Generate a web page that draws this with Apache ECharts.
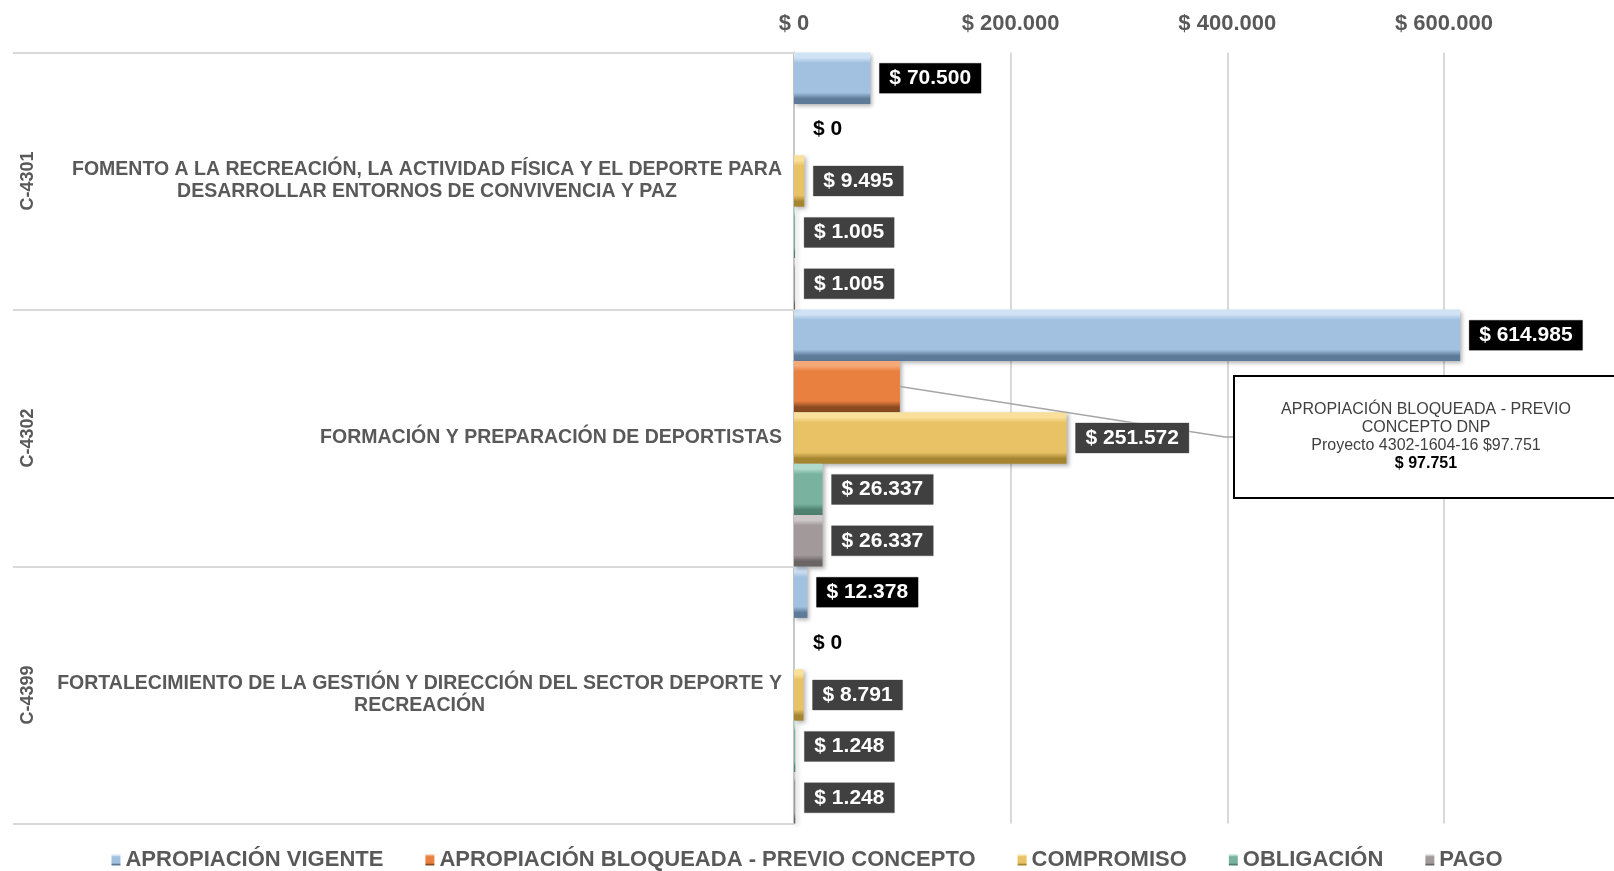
<!DOCTYPE html>
<html>
<head>
<meta charset="utf-8">
<script src="https://cdn.jsdelivr.net/npm/echarts@6/dist/echarts.min.js"></script>
<style>
  html, body { margin: 0; padding: 0; background: #fff; }
  #container { width: 1614px; height: 871px; }
</style>
</head>
<body>
<div id="container"></div>
<script>
var categories = [
  'FOMENTO A LA RECREACIÓN, LA ACTIVIDAD FÍSICA Y EL DEPORTE PARA\nDESARROLLAR ENTORNOS DE CONVIVENCIA Y PAZ',
  'FORMACIÓN Y PREPARACIÓN DE DEPORTISTAS',
  'FORTALECIMIENTO DE LA GESTIÓN Y DIRECCIÓN DEL SECTOR DEPORTE Y\nRECREACIÓN'
];
var codes = ['C-4301', 'C-4302', 'C-4399'];
var seriesNames = ['APROPIACIÓN VIGENTE', 'APROPIACIÓN BLOQUEADA - PREVIO CONCEPTO', 'COMPROMISO', 'OBLIGACIÓN', 'PAGO'];
var vigente = [70500, 614985, 12378];
var bloqueada = [0, 97751, 0];
var compromiso = [9495, 251572, 8791];
var obligacion = [1005, 26337, 1248];
var pago = [1005, 26337, 1248];
var calloutText = 'APROPIACIÓN BLOQUEADA - PREVIO\nCONCEPTO DNP\nProyecto 4302-1604-16 $97.751';

var FONT = "'Liberation Sans', Arial, sans-serif";

function fmt(v) {
  return '$ ' + String(v).replace(/\B(?=(\d{3})+(?!\d))/g, '.');
}

function bevel(light, main, dark) {
  return new echarts.graphic.LinearGradient(0, 0, 0, 1, [
    {offset: 0, color: light},
    {offset: 0.1, color: light},
    {offset: 0.2, color: main},
    {offset: 0.78, color: main},
    {offset: 0.9, color: dark},
    {offset: 1, color: dark}
  ]);
}

var dom = document.getElementById('container');
var myChart = echarts.init(dom);

function valLabel(bg, color) {
  return {
    show: true,
    position: 'right',
    distance: 9,
    formatter: function (p) { return fmt(p.value); },
    fontFamily: FONT,
    fontWeight: 'bold',
    fontSize: 21,
    color: color || '#fff',
    backgroundColor: bg,
    borderColor: bg === 'transparent' ? 'transparent' : '#bfbfbf',
    borderWidth: 0.5,
    padding: [5, 10, 4, 10]
  };
}

function barSeries(name, data, colors, label) {
  return {
    name: name,
    type: 'bar',
    yAxisIndex: 0,
    barGap: '0%',
    barCategoryGap: '0%',
    itemStyle: {
      color: bevel(colors[0], colors[1], colors[2]),
      shadowColor: 'rgba(0,0,0,0.3)',
      shadowBlur: 4,
      shadowOffsetX: 2,
      shadowOffsetY: 2
    },
    label: label,
    data: data
  };
}

// bloqueada: item 1 gets the callout box
var bloqData = bloqueada.map(function (v, i) {
  if (i !== 1) return v;
  return {
    value: v,
    label: {
      formatter: calloutText + '\n{b|' + fmt(v) + '}',
      color: '#404040',
      fontWeight: 'normal',
      fontSize: 16,
      lineHeight: 18,
      backgroundColor: '#fff',
      borderColor: '#000',
      borderWidth: 2,
      width: 366,
      align: 'center',
      padding: [24, 8, 24, 8],
      rich: {
        b: {fontFamily: FONT, fontWeight: 'bold', fontSize: 16, lineHeight: 18, color: '#000'}
      }
    }
  };
});

var bloqSeries = barSeries(seriesNames[1], bloqData, ['#f5a878', '#e9803f', '#8a4a20'], valLabel('transparent', '#000'));
bloqSeries.labelLayout = function (p) {
  if (p.dataIndex !== 1) return {};
  return {x: 1426, y: 437, align: 'center', verticalAlign: 'middle'};
};

var option = {
  animation: false,
  textStyle: {fontFamily: FONT},
  grid: {left: 794, top: 52.5, height: 771, right: 0, containLabel: false},
  xAxis: {
    type: 'value',
    position: 'top',
    min: 0,
    max: 757000,
    interval: 200000,
    axisLine: {show: false},
    axisTick: {show: false},
    axisLabel: {
      showMaxLabel: false,
      margin: 18,
      formatter: function (v) { return fmt(v); },
      fontFamily: FONT,
      fontWeight: 'bold',
      fontSize: 22,
      color: '#595959'
    },
    splitLine: {showMaxLine: false, lineStyle: {color: '#d9d9d9', width: 2}}
  },
  yAxis: [{
    type: 'category',
    inverse: true,
    data: categories,
    axisLine: {show: true, lineStyle: {color: '#c8c8c8', width: 2}},
    axisTick: {show: true, length: 781, lineStyle: {color: '#d9d9d9', width: 2}},
    axisLabel: {
      margin: 12,
      formatter: function (v) { return '{c|' + v + '}'; },
      rich: {
        c: {align: 'center', fontFamily: FONT, fontWeight: 'bold', fontSize: 19.5, lineHeight: 22, color: '#595959'}
      }
    }
  }, {
    type: 'category',
    inverse: true,
    position: 'left',
    data: codes,
    axisLine: {show: false},
    axisTick: {show: false},
    axisLabel: {
      rotate: 90,
      margin: 757,
      fontFamily: FONT,
      fontWeight: 'bold',
      fontSize: 18,
      color: '#595959'
    }
  }],
  legend: {
    data: seriesNames,
    top: 849,
    left: 'center',
    padding: 0,
    icon: 'rect',
    itemWidth: 9,
    itemHeight: 11,
    itemGap: 42,
    textStyle: {fontFamily: FONT, fontWeight: 'bold', fontSize: 22, color: '#595959'}
  },
  series: [
    barSeries(seriesNames[0], vigente, ['#cfe3f5', '#a2c1e1', '#5d7a98'], valLabel('#000')),
    bloqSeries,
    barSeries(seriesNames[2], compromiso, ['#f9e09a', '#e9c266', '#a68530'], valLabel('#404040')),
    barSeries(seriesNames[3], obligacion, ['#b0dacb', '#79b3a0', '#4f8070'], valLabel('#404040')),
    barSeries(seriesNames[4], pago, ['#cfc8c8', '#a29a9a', '#6b6464'], valLabel('#404040'))
  ]
};

if (option && typeof option === 'object') {
  myChart.setOption(option, true);
}

// leader line from the end of the blocked bar to the callout box
var bar = myChart.getModel().getSeriesByIndex(1).getData().getItemLayout(1);
var x0 = bar.x + bar.width, y0 = bar.y + bar.height / 2;
myChart.setOption({
  graphic: [{
    type: 'polyline',
    z: 2,
    z2: 1,
    silent: true,
    shape: {points: [[x0, y0], [1225, 437], [1235, 437]]},
    style: {stroke: '#a6a6a6', lineWidth: 1.5, fill: null}
  }]
});
</script>
</body>
</html>
